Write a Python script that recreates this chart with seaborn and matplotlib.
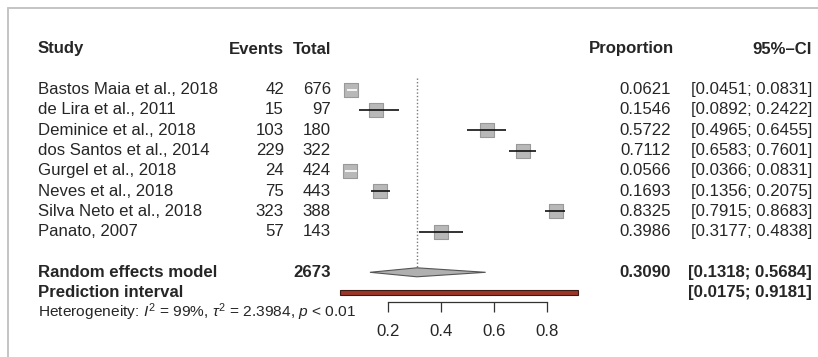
import numpy as np
import pandas as pd
import matplotlib
matplotlib.use("Agg")
import matplotlib.pyplot as plt
from matplotlib.lines import Line2D
from matplotlib.patches import Polygon, Rectangle
import seaborn as sns

# ---------------- data ----------------
studies = ["Bastos Maia et al., 2018", "de Lira et al., 2011", "Deminice et al., 2018",
           "dos Santos et al., 2014", "Gurgel et al., 2018", "Neves et al., 2018",
           "Silva Neto et al., 2018", "Panato, 2007"]
events = [42, 15, 103, 229, 24, 75, 323, 57]
totals = [676, 97, 180, 322, 424, 443, 388, 143]
prop = [0.0621, 0.1546, 0.5722, 0.7112, 0.0566, 0.1693, 0.8325, 0.3986]
ci_low = [0.0451, 0.0892, 0.4965, 0.6583, 0.0366, 0.1356, 0.7915, 0.3177]
ci_high = [0.0831, 0.2422, 0.6455, 0.7601, 0.0831, 0.2075, 0.8683, 0.4838]
re_total = 2673
re_est, re_low, re_high = 0.3090, 0.1318, 0.5684
pi_low, pi_high = 0.0175, 0.9181
tick_vals = [0.2, 0.4, 0.6, 0.8]
het_text = r"Heterogeneity: $I^2$ = 99%, $\tau^2$ = 2.3984, $p$ < 0.01"

# ---------------- style ----------------
sns.set_theme(style="white")
plt.rcParams["font.family"] = ["Liberation Sans", "DejaVu Sans"]
plt.rcParams["mathtext.fontset"] = "custom"
plt.rcParams["mathtext.rm"] = "Liberation Sans"
plt.rcParams["mathtext.it"] = "Liberation Sans:italic"

W, H = 818, 357
fig = plt.figure(figsize=(W / 100, H / 100), dpi=100)
fig.patch.set_facecolor("white")

# row layout (pixels)
row0_px, row_step = 49.0, 20.3
axis_px = 302.0
ax = fig.add_axes([0, (H - axis_px) / H, 1, axis_px / H])
# x mapping: 0.2 at px 388, 265 px per unit
x0 = 0.2 - 388 / 265
x1 = 0.2 + (W - 388) / 265
ax.set_xlim(x0, x1)
ax.set_ylim((axis_px - row0_px) / row_step, -row0_px / row_step)
ax.set_facecolor("none")

n = len(studies)
rows = np.arange(n) + 2
re_row = n + 3
pi_row = n + 4
het_row = n + 5

df = pd.DataFrame({"study": studies, "events": events, "total": totals,
                   "prop": prop, "lo": ci_low, "hi": ci_high, "row": rows})

TXT = "#262626"
fs = 12.1

# reference (dotted) line at random-effects estimate
ax.vlines(re_est, (78 - row0_px) / row_step, re_row - 0.2, colors="#7a7a7a",
          linestyles=(0, (1, 1.5)), lw=1.0, zorder=1)

# squares
sq_px = 14
sns.scatterplot(data=df, x="prop", y="row", marker="s", s=(sq_px * 0.72) ** 2,
                color="#b8b8b8", edgecolor="#999999", linewidth=0.8,
                ax=ax, legend=False, zorder=2)
hw = (sq_px / 2 + 0.5) / 265
for _, r in df.iterrows():
    inside = (r["lo"] >= r["prop"] - hw) and (r["hi"] <= r["prop"] + hw)
    ax.hlines(r["row"], r["lo"], r["hi"], colors="white" if inside else "#111111",
              lw=1.2, zorder=3)

# diamond
dh = 4.5 / row_step
ax.add_patch(Polygon([(re_low, re_row), (re_est, re_row - dh), (re_high, re_row),
                      (re_est, re_row + dh)], closed=True, facecolor="#b0b0b0",
                     edgecolor="#555555", lw=0.8, zorder=3))
# prediction interval
ph = 5 / row_step
ax.add_patch(Rectangle((pi_low, pi_row - ph / 2), pi_high - pi_low, ph,
                       facecolor="#9a3527", edgecolor="#3b1a16", lw=0.8, zorder=3))

# axis
for s in ["top", "left", "right"]:
    ax.spines[s].set_visible(False)
ax.spines["bottom"].set_bounds(tick_vals[0], tick_vals[-1])
ax.spines["bottom"].set_color("#333333")
ax.spines["bottom"].set_linewidth(0.9)
ax.set_xticks(tick_vals)
ax.set_xticklabels([f"{v:.1f}" for v in tick_vals])
ax.tick_params(axis="x", direction="out", length=7.2, width=0.9, color="#333333",
               pad=9, labelsize=fs, labelcolor=TXT, bottom=True)
ax.set_yticks([])
ax.set_xlabel("")
ax.set_ylabel("")

# text columns (figure-pixel x, data row y)
tr = ax.get_yaxis_transform()
def put(xpx, row, s, ha="left", bold=False):
    ax.text(xpx / W, row, s, transform=tr, ha=ha, va="center", fontsize=fs,
            color=TXT, fontweight="bold" if bold else "normal", clip_on=False)

X_STUDY, X_EV, X_TOT, X_PROP, X_CI = 38, 284, 331, 671, 812
put(X_STUDY, 0, "Study", bold=True)
put(X_EV, 0, "Events", ha="right", bold=True)
put(X_TOT, 0, "Total", ha="right", bold=True)
put(X_PROP + 3, 0, "Proportion", ha="right", bold=True)
put(X_CI, 0, "95%\u2013CI", ha="right", bold=True)
for _, r in df.iterrows():
    put(X_STUDY, r["row"], r["study"])
    put(X_EV, r["row"], f"{r['events']}", ha="right")
    put(X_TOT, r["row"], f"{r['total']}", ha="right")
    put(X_PROP, r["row"], f"{r['prop']:.4f}", ha="right")
    put(X_CI, r["row"], f"[{r['lo']:.4f}; {r['hi']:.4f}]", ha="right")
put(X_STUDY, re_row, "Random effects model", bold=True)
put(X_TOT, re_row, f"{re_total}", ha="right", bold=True)
put(X_PROP, re_row, f"{re_est:.4f}", ha="right", bold=True)
put(X_CI, re_row, f"[{re_low:.4f}; {re_high:.4f}]", ha="right", bold=True)
put(X_STUDY, pi_row, "Prediction interval", bold=True)
put(X_CI, pi_row, f"[{pi_low:.4f}; {pi_high:.4f}]", ha="right", bold=True)
ax.text(X_STUDY / W, het_row - 0.05, het_text, transform=tr, ha="left", va="center",
        fontsize=fs * 0.92, color=TXT, clip_on=False)

# frame lines (top and left)
fig.add_artist(Line2D([8 / W, 1], [1 - 8 / H, 1 - 8 / H], color="#c4c4c4", lw=1.4))
fig.add_artist(Line2D([8 / W, 8 / W], [0, 1 - 8 / H], color="#c4c4c4", lw=1.4))

fig.savefig("out.png", dpi=100)
